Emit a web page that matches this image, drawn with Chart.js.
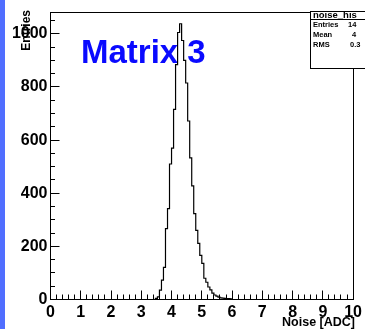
<!DOCTYPE html>
<html>
<head>
<meta charset="utf-8">
<title>Matrix 3 - noise</title>
<script src="https://cdn.jsdelivr.net/npm/chart.js@4.4.1/dist/chart.umd.min.js"></script>
<style>
  html, body { margin: 0; padding: 0; background: #ffffff; overflow: hidden; }
  canvas { display: block; }
</style>
</head>
<body>
<canvas id="noise-chart" width="365" height="329"></canvas>
<script>
// Histogram bins: lower edge of each bin (ADC) and the entries in it
const binedges = [
  3.400, 3.467, 3.533, 3.600, 3.667, 3.733, 3.800, 3.867, 3.933, 4.000,
  4.067, 4.133, 4.200, 4.267, 4.333, 4.400, 4.467, 4.533, 4.600, 4.667,
  4.733, 4.800, 4.867, 4.933, 5.000, 5.067, 5.133, 5.200, 5.267, 5.333,
  5.400, 5.467, 5.533, 5.600, 5.667, 5.733, 5.800, 5.867, 5.933, 6.000,
];
const bincounts = [
  0, 4, 10, 35, 73, 121, 267, 342, 510, 570,
  716, 884, 1005, 1038, 975, 900, 815, 672, 533, 428,
  323, 260, 211, 166, 136, 80, 65, 47, 36, 24,
  17, 13, 9, 6, 5, 4, 3, 3, 2, 0,
];

// Axis labels
const xticks = [0, 1, 2, 3, 4, 5, 6, 7, 8, 9, 10];
const yticks = [0, 200, 400, 600, 800, 1000];

// Stats box rows (only the part that is visible)
const statsnames = ["Entries", "Mean", "RMS"];
const statsvalues = ["14", "4", "0.3"];

const fontfamily = "'Liberation Sans', Arial, Helvetica, sans-serif";

// Draws the ROOT style frame, inside ticks, titles and stats box
const rootframe = {
  id: "rootframe",
  beforeDraw(chart) {
    const c = chart.ctx;
    c.save();
    c.fillStyle = "#ffffff";
    c.fillRect(0, 0, chart.width, chart.height);
    // blue strip on the left edge
    c.fillStyle = "#506eff";
    c.fillRect(0, 0, 5, chart.height);
    c.restore();
  },
  beforeDatasetsDraw(chart) {
    const c = chart.ctx;
    c.save();
    c.fillStyle = "#0a0aff";
    c.font = "bold 33px " + fontfamily;
    c.textBaseline = "alphabetic";
    c.fillText("Matrix 3", 81, 63);
    c.restore();
  },
  afterDraw(chart) {
    const c = chart.ctx;
    const xs = chart.scales.x;
    const ys = chart.scales.y;
    const area = chart.chartArea;
    const crisp = (p) => Math.round(p - 0.5) + 0.5;

    c.save();
    c.strokeStyle = "#000000";
    c.lineWidth = 1;

    // frame
    c.strokeRect(crisp(area.left), crisp(area.top), Math.round(area.right - area.left), Math.round(area.bottom - area.top));

    // y ticks (major every 200, minor every 50), drawn inside
    c.beginPath();
    for (let v = 0; v <= ys.max; v += 50) {
      const py = crisp(ys.getPixelForValue(v));
      const len = v % 200 === 0 ? 9 : 4.5;
      c.moveTo(crisp(area.left), py);
      c.lineTo(crisp(area.left) + len, py);
    }
    // x ticks (major every 1, minor every 0.2)
    for (let k = 0; k <= 50; k++) {
      const px = crisp(xs.getPixelForValue(k * 0.2));
      const len = k % 5 === 0 ? 9 : 5;
      c.moveTo(px, crisp(area.bottom));
      c.lineTo(px, crisp(area.bottom) - len);
    }
    c.stroke();

    // axis titles
    c.fillStyle = "#000000";
    c.font = "bold 12.5px " + fontfamily;
    c.textAlign = "right";
    c.textBaseline = "alphabetic";
    c.fillText("Noise [ADC]", 355, 326);

    c.save();
    c.translate(30, 10);
    c.rotate(-Math.PI / 2);
    c.font = "bold 12px " + fontfamily;
    c.textAlign = "right";
    c.fillText("Entries", 0, 0);
    c.restore();

    // stats box
    const bx = 310.5, by = 11.5, bw = 60, bh = 57;
    c.fillStyle = "#ffffff";
    c.fillRect(bx, by, bw, bh);
    c.strokeRect(bx, by, bw, bh);
    c.beginPath();
    c.moveTo(bx, 19.5);
    c.lineTo(bx + bw, 19.5);
    c.stroke();

    c.fillStyle = "#000000";
    c.textAlign = "left";
    c.font = "bold 9.5px " + fontfamily;
    c.fillText("noise_his", 313, 18);
    c.font = "bold 7.5px " + fontfamily;
    const valuex = [348, 352, 350];
    for (let i = 0; i < statsnames.length; i++) {
      const base = 27 + i * 10;
      c.fillText(statsnames[i], 313, base);
      c.fillText(statsvalues[i], valuex[i], base);
    }
    c.restore();
  },
};

const histpoints = binedges.map((edge, i) => ({ x: edge, y: bincounts[i] }));

const ctx = document.getElementById("noise-chart");
const noisechart = new Chart(ctx, {
  type: "line",
  data: {
    datasets: [
      {
        label: "noise_hist",
        data: histpoints,
        stepped: "before",
        borderColor: "#000000",
        borderWidth: 1.2,
        pointRadius: 0,
        fill: false,
      },
    ],
  },
  options: {
    responsive: false,
    animation: false,
    devicePixelRatio: 1,
    layout: { padding: { top: 11, right: 10, left: 0, bottom: 0 } },
    plugins: {
      legend: { display: false },
      tooltip: { enabled: false },
    },
    scales: {
      x: {
        type: "linear",
        min: 0,
        max: 10,
        afterFit: (scale) => { scale.height = 29.5; },
        afterBuildTicks: (scale) => { scale.ticks = xticks.map((v) => ({ value: v })); },
        grid: { display: false, drawTicks: false },
        border: { display: false },
        ticks: {
          color: "#000000",
          padding: 3,
          maxRotation: 0,
          autoSkip: false,
          callback: (value) => String(value),
          font: { family: fontfamily, size: 16, weight: "bold" },
        },
      },
      y: {
        type: "linear",
        min: 0,
        max: 1080,
        afterFit: (scale) => { scale.width = 50.5; },
        afterBuildTicks: (scale) => { scale.ticks = yticks.map((v) => ({ value: v })); },
        grid: { display: false, drawTicks: false },
        border: { display: false },
        ticks: {
          color: "#000000",
          padding: 3,
          autoSkip: false,
          callback: (value) => String(value),
          font: { family: fontfamily, size: 16, weight: "bold" },
        },
      },
    },
  },
  plugins: [rootframe],
});
</script>
</body>
</html>
